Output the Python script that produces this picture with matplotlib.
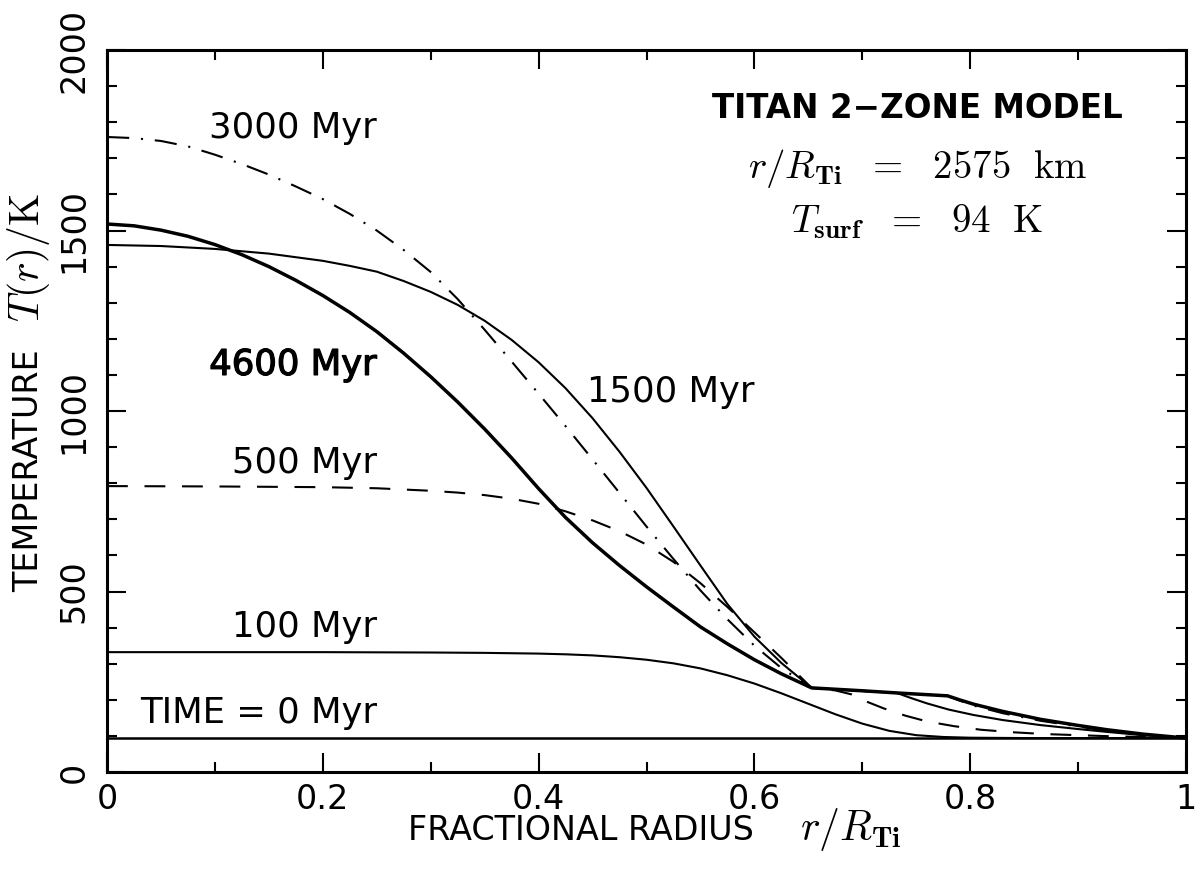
import matplotlib
matplotlib.use("Agg")
import matplotlib.pyplot as plt
import matplotlib.patheffects as pe
from matplotlib.ticker import MultipleLocator, FuncFormatter

plt.rcParams['font.family'] = ['DejaVu Sans']
plt.rcParams['mathtext.fontset'] = 'cm'
plt.rcParams['lines.scale_dashes'] = False

# fractional radius / temperature (K)
r_0 = [0.0, 1.0]
t_0 = [94, 94]

r_100 = [0.0, 0.1, 0.2, 0.3, 0.35, 0.4, 0.425, 0.45, 0.475, 0.5, 0.525, 0.55,
         0.575, 0.6, 0.625, 0.65, 0.675, 0.7, 0.725, 0.75, 0.775, 0.8, 0.85, 1.0]
t_100 = [332, 332, 332, 331, 330, 328, 326, 323, 318, 311, 301, 287,
         268, 245, 218, 189, 160, 134, 114, 102, 97, 95, 94, 94]

r_500 = [0.0, 0.1, 0.2, 0.25, 0.3, 0.325, 0.35, 0.375, 0.4, 0.425, 0.45, 0.475,
         0.5, 0.525, 0.55, 0.575, 0.6, 0.625, 0.653, 0.675, 0.69, 0.704, 0.72,
         0.74, 0.76, 0.785, 0.81, 0.84, 0.87, 0.93, 1.0]
t_500 = [792, 791, 789, 786, 779, 774, 767, 757, 743, 722, 697, 667,
         630, 582, 523, 457, 387, 316, 233, 226, 215, 195, 176,
         156, 140, 127, 117, 110, 105, 99, 94]

r_1500 = [0.0, 0.05, 0.1, 0.15, 0.2, 0.225, 0.25, 0.275, 0.3, 0.325, 0.35, 0.375,
          0.4, 0.425, 0.45, 0.475, 0.5, 0.525, 0.55, 0.575, 0.6, 0.625, 0.653,
          0.69, 0.732, 0.745, 0.76, 0.78, 0.803, 0.83, 0.865, 0.9, 0.927, 0.96,
          1.0]
t_1500 = [1460, 1457, 1449, 1436, 1416, 1402, 1386, 1360, 1330, 1294, 1250, 1197,
          1135, 1063, 980, 887, 787, 680, 572, 465, 375, 302, 233,
          226, 219, 205, 190, 173, 158, 144, 130, 119, 111, 102,
          94]

r_3000 = [0.0, 0.025, 0.05, 0.075, 0.1, 0.125, 0.15, 0.175, 0.2, 0.225, 0.25,
          0.275, 0.3, 0.325, 0.35, 0.375, 0.4, 0.425, 0.45, 0.475, 0.5, 0.525,
          0.55, 0.575, 0.6, 0.625, 0.653, 0.70, 0.732, 0.779, 0.79, 0.803, 0.83,
          0.865, 0.9, 0.927, 0.96, 1.0]
t_3000 = [1759, 1756, 1748, 1733, 1710, 1684, 1655, 1622, 1587, 1546, 1500,
          1446, 1385, 1310, 1225, 1137, 1048, 958, 866, 773, 680, 590,
          503, 423, 350, 288, 233, 225, 219, 211, 198, 184, 163,
          142, 126, 114, 103, 94]

r_4600 = [0.0, 0.025, 0.05, 0.075, 0.1, 0.125, 0.15, 0.175, 0.2, 0.225, 0.25,
          0.275, 0.3, 0.325, 0.35, 0.375, 0.4, 0.425, 0.45, 0.475, 0.5, 0.525,
          0.55, 0.575, 0.6, 0.625, 0.653, 0.70, 0.732, 0.779, 0.79, 0.803, 0.83,
          0.865, 0.9, 0.927, 0.96, 1.0]
t_4600 = [1518, 1513, 1501, 1484, 1461, 1433, 1400, 1362, 1320, 1273, 1220,
          1160, 1095, 1025, 950, 870, 785, 705, 635, 572, 513, 457,
          402, 355, 311, 272, 233, 225, 219, 211, 200, 188, 168,
          146, 129, 117, 105, 94]

fig = plt.figure(figsize=(12, 8.74), dpi=100)
ax = fig.add_axes([107 / 1200, 102 / 874, 1079 / 1200, 722 / 874])

ax.plot(r_0, t_0, color='black', lw=1.8)
ax.plot(r_100, t_100, color='black', lw=1.5)
ax.plot(r_500, t_500, color='black', lw=1.5, dashes=(15, 12))
ax.plot(r_1500, t_1500, color='black', lw=1.5)
ax.plot(r_3000, t_3000, color='black', lw=1.5, dashes=(16, 8.5, 1.5, 8.5))
ax.plot(r_4600, t_4600, color='black', lw=2.5)

ax.set_xlim(0, 1)
ax.set_ylim(0, 2000)
ax.xaxis.set_major_locator(MultipleLocator(0.2))
ax.xaxis.set_minor_locator(MultipleLocator(0.1))
ax.yaxis.set_major_locator(MultipleLocator(500))
ax.yaxis.set_minor_locator(MultipleLocator(100))
ax.xaxis.set_major_formatter(FuncFormatter(lambda v, _: f'{v:g}'))

for s in ax.spines.values():
    s.set_linewidth(2.2)
ax.tick_params(which='both', direction='in', top=True, right=True, width=1.5,
               labelsize=24)
ax.tick_params(which='major', length=14)
ax.tick_params(which='minor', length=7)
ax.tick_params(axis='y', labelrotation=90, pad=12)
ax.tick_params(axis='x', pad=8)
for lbl in ax.get_yticklabels():
    lbl.set_va('center')

# axis titles: plain words as the labels, the symbols set a bit larger
ax.set_xlabel('FRACTIONAL RADIUS', fontsize=24)
ax.xaxis.set_label_coords(0.439, -0.058)
ax.text(0.642, -0.094, r'$r/R_{\mathbf{Ti}}$', fontsize=30, ha='left',
        va='baseline', transform=ax.transAxes)
ax.set_ylabel('TEMPERATURE', fontsize=24)
ax.yaxis.set_label_coords(-0.0575, 0.418)
ax.text(-0.0732, 0.713, r'$T(r)/\mathrm{K}$', fontsize=30, rotation=90,
        ha='center', va='center', transform=ax.transAxes)

lab = dict(fontsize=25.5, ha='right', va='baseline')
ax.text(0.25, 1756, '3000 Myr', **lab)
ax.text(0.25, 1100, '4600 Myr',
        path_effects=[pe.withStroke(linewidth=0.9, foreground='black')], **lab)
ax.text(0.25, 828, '500 Myr', **lab)
ax.text(0.25, 374, '100 Myr', **lab)
ax.text(0.25, 136, 'TIME = 0 Myr', **lab)
ax.text(0.60, 1025, '1500 Myr', **lab)

ax.text(0.751, 1811, 'TITAN 2\u2212ZONE MODEL', fontsize=23.5, fontweight='bold',
        ha='center', va='baseline')
ax.text(0.751, 1645, r'$r/R_{\mathbf{Ti}}\ \ =\ \ 2575\ \ \mathrm{km}$',
        fontsize=28, ha='center', va='baseline')
ax.text(0.751, 1496, r'$T_{\mathbf{surf}}\ \ =\ \ 94\ \ \mathrm{K}$',
        fontsize=28, ha='center', va='baseline')

fig.savefig('out.png', dpi=100)
